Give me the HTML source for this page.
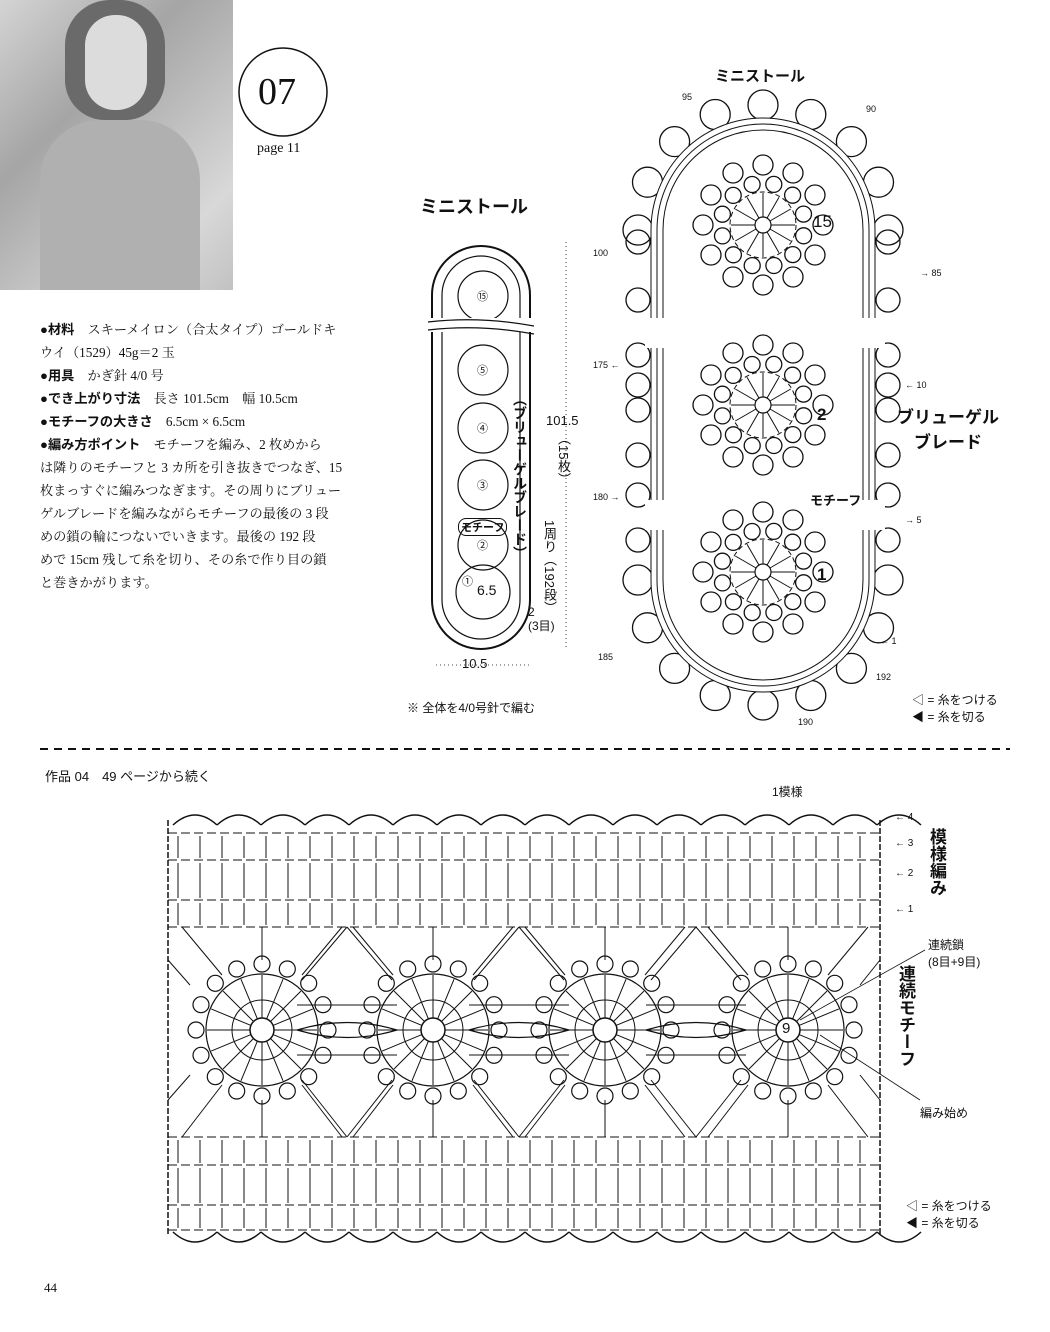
<!DOCTYPE html>
<html><head><meta charset="utf-8">
<style>
body{margin:0;background:#fff;}
#w{position:relative;width:1050px;height:1332px;overflow:hidden;background:#fff;font-family:"Liberation Sans","Noto Sans CJK JP",sans-serif;color:#111;}
.t{position:absolute;white-space:nowrap;}
#txt{position:absolute;left:40px;top:318px;font-size:13.2px;line-height:23px;font-family:"Liberation Serif","Noto Serif CJK SC",serif;}
#txt b{font-family:"Liberation Sans","Noto Sans CJK JP",sans-serif;}
svg{position:absolute;left:0;top:0;}
</style></head><body><div id="w">
<div style="position:absolute;left:0;top:0;width:233px;height:290px;background:linear-gradient(135deg,#d4d4d4 0%,#a5a5a5 35%,#bcbcbc 55%,#d8d8d8 80%,#c2c2c2 100%);"></div>
<div style="position:absolute;left:65px;top:0;width:100px;height:120px;border-radius:45px 45px 40px 40px;background:#6a6a6a;"></div>
<div style="position:absolute;left:85px;top:15px;width:62px;height:95px;border-radius:30px;background:#dcdcdc;"></div>
<div style="position:absolute;left:40px;top:120px;width:160px;height:170px;border-radius:60px 60px 0 0;background:#b0b0b0;"></div>
<svg width="1050" height="1332" id="g"></svg>
<div class="t" style="left:258px;top:70px;font-size:38px;font-family:'Liberation Serif',serif;">07</div>
<div class="t" style="left:257px;top:141px;font-size:14px;font-family:'Liberation Serif',serif;">page 11</div>
<div id="txt">
<b>●材料</b>　スキーメイロン（合太タイプ）ゴールドキ<br>ウイ（1529）45g＝2 玉<br>
<b>●用具</b>　かぎ針 4/0 号<br>
<b>●でき上がり寸法</b>　長さ 101.5cm　幅 10.5cm<br>
<b>●モチーフの大きさ</b>　6.5cm × 6.5cm<br>
<b>●編み方ポイント</b>　モチーフを編み、2 枚めから<br>は隣りのモチーフと 3 カ所を引き抜きでつなぎ、15<br>枚まっすぐに編みつなぎます。その周りにブリュー<br>ゲルブレードを編みながらモチーフの最後の 3 段<br>めの鎖の輪につないでいきます。最後の 192 段<br>めで 15cm 残して糸を切り、その糸で作り目の鎖<br>と巻きかがります。
</div>
<div class="t" style="left:420px;top:193px;font-size:18px;font-weight:bold;">ミニストール</div>
<div class="t" style="left:715px;top:65px;font-size:15px;font-weight:bold;">ミニストール</div>
<div class="t" style="left:546px;top:413px;font-size:13px;">101.5</div>
<div class="t" style="left:556px;top:432px;font-size:13px;line-height:15px;writing-mode:vertical-rl;">（15枚）</div>
<div class="t" style="left:510px;top:392px;font-size:14px;font-weight:bold;writing-mode:vertical-rl;">（ブリューゲルブレード）</div>
<div class="t" style="left:540px;top:520px;font-size:13px;writing-mode:vertical-rl;">1周り（192段）</div>
<div class="t" style="left:528px;top:605px;font-size:12px;line-height:14px;">2<br>(3目)</div>
<div class="t" style="left:462px;top:656px;font-size:13px;">10.5</div>
<div class="t" style="left:458px;top:518px;font-size:11px;font-weight:bold;border:1px solid #111;border-radius:8px;padding:0 2px;">モチーフ</div>
<div class="t" style="left:477px;top:582px;font-size:14px;">6.5</div>
<div class="t" style="left:407px;top:699px;font-size:12px;">※ 全体を4/0号針で編む</div>
<div class="t" style="left:897px;top:405px;font-size:17px;font-weight:bold;line-height:25px;text-align:center;">ブリューゲル<br>ブレード</div>
<div class="t" style="left:810px;top:490px;font-size:13px;font-weight:bold;">モチーフ</div>
<div class="t" style="left:813px;top:212px;font-size:17px;">15</div>
<div class="t" style="left:817px;top:405px;font-size:17px;font-weight:bold;">2</div>
<div class="t" style="left:817px;top:565px;font-size:17px;font-weight:bold;">1</div>
<div class="t" style="left:682px;top:92px;font-size:9px;">95</div>
<div class="t" style="left:866px;top:104px;font-size:9px;">90</div>
<div class="t" style="left:593px;top:248px;font-size:9px;">100</div>
<div class="t" style="left:920px;top:268px;font-size:9px;">→ 85</div>
<div class="t" style="left:593px;top:360px;font-size:9px;">175 ←</div>
<div class="t" style="left:905px;top:380px;font-size:9px;">← 10</div>
<div class="t" style="left:593px;top:492px;font-size:9px;">180 →</div>
<div class="t" style="left:905px;top:515px;font-size:9px;">→ 5</div>
<div class="t" style="left:598px;top:652px;font-size:9px;">185</div>
<div class="t" style="left:880px;top:636px;font-size:9px;">← 1</div>
<div class="t" style="left:876px;top:672px;font-size:9px;">192</div>
<div class="t" style="left:798px;top:717px;font-size:9px;">190</div>
<div class="t" style="left:912px;top:692px;font-size:12px;line-height:17px;">◁ = 糸をつける<br>◀ = 糸を切る</div>
<div class="t" style="left:45px;top:766px;font-size:13px;">作品 04　49 ページから続く</div>
<div class="t" style="left:772px;top:783px;font-size:12px;">1模様</div>
<div class="t" style="left:924px;top:828px;font-size:17px;font-weight:bold;writing-mode:vertical-rl;">模様編み</div>
<div class="t" style="left:893px;top:965px;font-size:17px;font-weight:bold;writing-mode:vertical-rl;">連続モチーフ</div>
<div class="t" style="left:928px;top:937px;font-size:12px;line-height:17px;">連続鎖<br>(8目+9目)</div>
<div class="t" style="left:920px;top:1104px;font-size:12px;">編み始め</div>
<div class="t" style="left:895px;top:812px;font-size:10px;">← 4</div>
<div class="t" style="left:895px;top:838px;font-size:10px;">← 3</div>
<div class="t" style="left:895px;top:868px;font-size:10px;">← 2</div>
<div class="t" style="left:895px;top:904px;font-size:10px;">← 1</div>
<div class="t" style="left:906px;top:1198px;font-size:12px;line-height:17px;">◁ = 糸をつける<br>◀ = 糸を切る</div>
<div class="t" style="left:44px;top:1280px;font-size:13px;font-family:'Liberation Serif',serif;">44</div>
<div class="t" style="left:782px;top:1020px;font-size:15px;">9</div>
<div class="t" style="left:477px;top:288px;font-size:11px;">⑮</div>
<div class="t" style="left:477px;top:362px;font-size:11px;">⑤</div>
<div class="t" style="left:477px;top:420px;font-size:11px;">④</div>
<div class="t" style="left:477px;top:477px;font-size:11px;">③</div>
<div class="t" style="left:477px;top:537px;font-size:11px;">②</div>
<div class="t" style="left:462px;top:573px;font-size:11px;">①</div>
<script>
var s=document.getElementById('g'),h='';
function L(a,b,c,d,w,da){h+='<line x1="'+a+'" y1="'+b+'" x2="'+c+'" y2="'+d+'" stroke="#111" stroke-width="'+(w||1)+'"'+(da?' stroke-dasharray="'+da+'"':'')+'/>';}
function C(x,y,r,w,f){h+='<circle cx="'+x+'" cy="'+y+'" r="'+r+'" fill="'+(f||'none')+'" stroke="#111" stroke-width="'+(w||1)+'"/>';}
function P(d,w,da){h+='<path d="'+d+'" fill="none" stroke="#111" stroke-width="'+(w||1)+'"'+(da?' stroke-dasharray="'+da+'"':'')+'/>';}
C(283,92,44,1.5);
P('M432 295 A49 49 0 0 1 530 295 L530 600 A49 49 0 0 1 432 600 Z',2);
P('M442 295 A39 39 0 0 1 520 295 L520 600 A39 39 0 0 1 442 600 Z',1.2);
[296,370,428,485,545].forEach(function(y){C(483,y,25,1.2);});C(483,592,27,1.2);
h+='<rect x="428" y="318" width="106" height="14" fill="#fff"/>';P('M428 322 Q480 316 534 326 M428 330 Q480 324 534 334',1.2);
L(566,242,566,650,0.8,'1 3');L(436,665,530,665,0.8,'1 3');
function oval(r){P('M'+(763-r)+' 230 A'+r+' '+r+' 0 0 1 '+(763+r)+' 230 L'+(763+r)+' 580 A'+r+' '+r+' 0 0 1 '+(763-r)+' 580 Z',1);}
for(var i=0;i<=8;i++){var a=Math.PI*i/8;var x=763-125*Math.cos(a),y=230-125*Math.sin(a);C(x.toFixed(1),y.toFixed(1),15,1.3);x=763-125*Math.cos(a);y=580+125*Math.sin(a);C(x.toFixed(1),y.toFixed(1),15,1.3);}
h+='<path d="M763 230 m-112 0 a112 112 0 0 1 224 0 L875 580 a112 112 0 0 1 -224 0Z" fill="#fff"/>';
[242,300,355,385,410,455,495,540].forEach(function(y){C(638,y,12,1.3);C(888,y,12,1.3);});
h+='<path d="M763 230 m-112 0 a112 112 0 0 1 224 0 L875 580 a112 112 0 0 1 -224 0Z" fill="#fff"/>';
[100,106,112].forEach(oval);
h+='<rect x="645" y="318" width="240" height="30" fill="#fff"/><rect x="645" y="500" width="240" height="30" fill="#fff"/>';
function flower(cx,cy){C(cx,cy,8,1.2);for(var i=0;i<12;i++){var a=i*Math.PI/6;L(cx+8*Math.cos(a),cy+8*Math.sin(a),cx+32*Math.cos(a),cy+32*Math.sin(a),1);C((cx+42*Math.cos(a+.26)).toFixed(1),(cy+42*Math.sin(a+.26)).toFixed(1),8,1.3);C((cx+60*Math.cos(a)).toFixed(1),(cy+60*Math.sin(a)).toFixed(1),10,1.3);}
h+='<circle cx="'+cx+'" cy="'+cy+'" r="33" fill="none" stroke="#111" stroke-dasharray="5 3"/>';}
flower(763,225);flower(763,405);flower(763,572);
L(40,749,1010,749,2,'8 6');
var X0=168,X1=880;
function rows(y,dir){for(var x=X0+5;x<X1;x+=44){P('M'+x+' '+(y)+' Q'+(x+22)+' '+(y-20*dir)+' '+(x+44)+' '+y,1.5);}}
rows(825,1);rows(1232,-1);
[833,860,900,927,1137,1165,1205,1230].forEach(function(y){L(X0,y,X1,y,1,'9 4');});
for(var x=X0+10;x<X1;x+=22){L(x,836,x,858,1);L(x,863,x,898,1);L(x,903,x,925,1);L(x,1140,x,1163,1);L(x,1168,x,1203,1);L(x,1208,x,1228,1);}
L(X0,820,X0,1235,1.5,'6 2');L(X1,820,X1,1235,1.5,'6 2');
[262,433,605,788].forEach(function(cx){var cy=1030;C(cx,cy,12,1.5);C(cx,cy,56,1.2);C(cx,cy,30,1);
for(var i=0;i<16;i++){var a=i*Math.PI/8;L(cx+12*Math.cos(a),cy+12*Math.sin(a),cx+55*Math.cos(a),cy+55*Math.sin(a),1);C((cx+66*Math.cos(a)).toFixed(1),(cy+66*Math.sin(a)).toFixed(1),8,1.2);}
[-1,1].forEach(function(d){var y=d<0?927:1137;L(cx,y,cx,cy+d*70,1);L(cx-80,y,cx-40,cy+d*55,1);L(cx+80,y,cx+40,cy+d*55,1);});});
for(var k=0;k<3;k++){var m=[347,519,696][k];L(m,927,m-45,980,1);L(m,927,m+45,980,1);L(m,1137,m-45,1080,1);L(m,1137,m+45,1080,1);L(m-50,1005,m+50,1005,1);L(m-50,1055,m+50,1055,1);P('M'+(m-50)+' 1030 Q'+m+' 1015 '+(m+50)+' 1030 Q'+m+' 1045 '+(m-50)+' 1030',1.2);}
L(X0,960,190,985,1);L(X0,1100,190,1075,1);L(X1,960,860,985,1);L(X1,1100,860,1075,1);
L(925,950,800,1020,0.8);L(920,1100,820,1035,0.8);
s.innerHTML=h;
</script>
</div></body></html>
